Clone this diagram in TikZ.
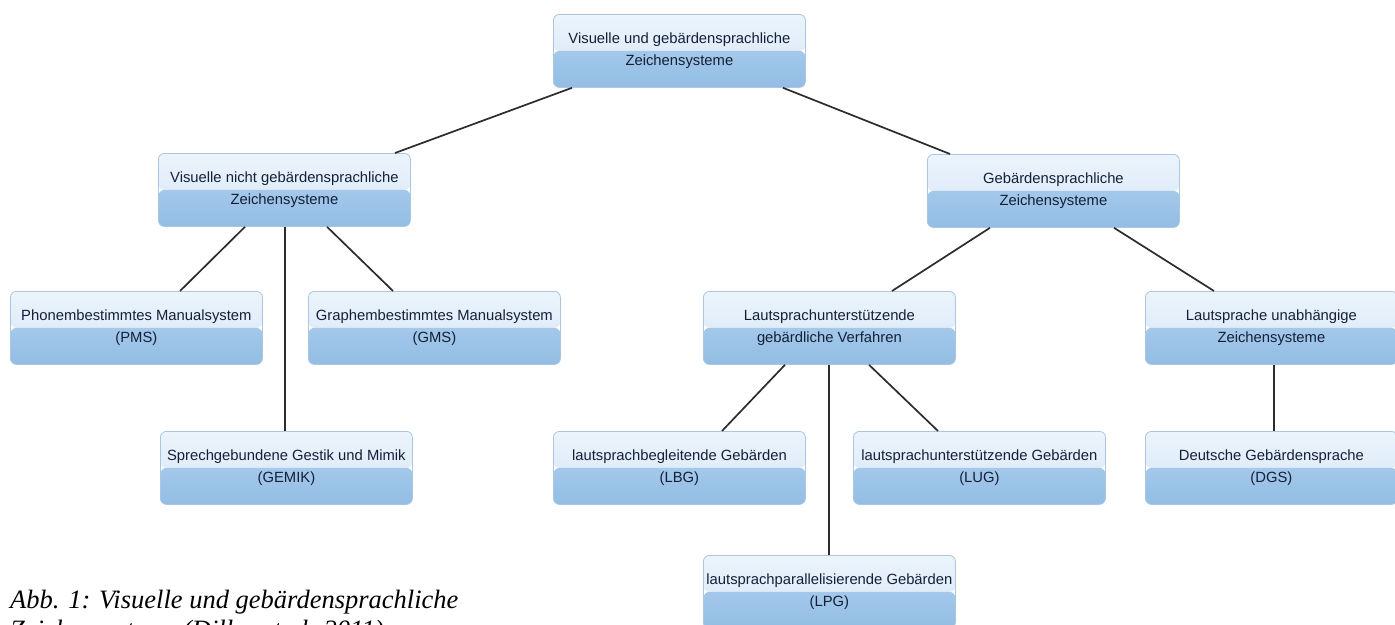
\documentclass[tikz,border=0pt]{standalone}
\usepackage{fontspec}
\setmainfont{Liberation Serif}
\newfontfamily\boxfont{Liberation Sans}
\definecolor{toplight}{HTML}{ECF4FC}
\definecolor{topdark}{HTML}{D3E5F6}
\definecolor{botlight}{HTML}{A3C8EA}
\definecolor{botdark}{HTML}{93BDE4}
\definecolor{boxline}{HTML}{A9C7E3}
\definecolor{boxtext}{HTML}{152038}
\definecolor{edgecol}{HTML}{2C2C2C}
\tikzset{
  sysbox/.style={draw=boxline, line width=0.8pt, rounded corners=6pt,
    minimum width=252pt, minimum height=73pt, inner sep=0pt, align=center,
    anchor=north west, text=boxtext,
    font=\boxfont\fontsize{14.8}{22}\selectfont,
    path picture={
      \shade[top color=toplight, bottom color=topdark]
        (path picture bounding box.north west) rectangle (path picture bounding box.east);
      \shade[top color=botlight, bottom color=botdark]
        (path picture bounding box.west) rectangle (path picture bounding box.south east);
    }},
  link/.style={draw=edgecol, line width=1.7pt},
  captext/.style={anchor=base west, inner sep=0pt, font=\itshape\fontsize{26.5}{30}\selectfont}
}
\begin{document}
\begin{tikzpicture}[x=1pt,y=-1pt]
\useasboundingbox (0,0) rectangle (1395,624);
\fill[white] (0,0) rectangle (1395,624);
% nodes
\node[sysbox] (root) at (553,14) {Visuelle und gebärdensprachliche\\Zeichensysteme};
\node[sysbox] (vng) at (158,153) {Visuelle nicht gebärdensprachliche\\Zeichensysteme};
\node[sysbox] (gz) at (927,154) {Gebärdensprachliche\\Zeichensysteme};
\node[sysbox] (pms) at (10,291) {Phonembestimmtes Manualsystem\\(PMS)};
\node[sysbox] (gms) at (308,291) {Graphembestimmtes Manualsystem\\(GMS)};
\node[sysbox] (luv) at (703,291) {Lautsprachunterstützende\\gebärdliche Verfahren};
\node[sysbox] (luz) at (1145,291) {Lautsprache unabhängige\\Zeichensysteme};
\node[sysbox] (gemik) at (160,431) {Sprechgebundene Gestik und Mimik\\(GEMIK)};
\node[sysbox] (lbg) at (553,431) {lautsprachbegleitende Gebärden\\(LBG)};
\node[sysbox] (lugb) at (853,431) {lautsprachunterstützende Gebärden\\(LUG)};
\node[sysbox] (dgs) at (1145,431) {Deutsche Gebärdensprache\\(DGS)};
\node[sysbox] (lpg) at (703,555) {lautsprachparallelisierende Gebärden\\(LPG)};
% connectors
\draw[link] ([xshift=19pt]root.south west) -- ([xshift=237pt]vng.north west);
\draw[link] ([xshift=230pt]root.south west) -- ([xshift=23pt]gz.north west);
\draw[link] ([xshift=87pt]vng.south west) -- ([xshift=170pt]pms.north west);
\draw[link] ([xshift=127pt]vng.south west) -- ([xshift=125pt]gemik.north west);
\draw[link] ([xshift=169pt]vng.south west) -- ([xshift=85pt]gms.north west);
\draw[link] ([xshift=63pt]gz.south west) -- ([xshift=189pt]luv.north west);
\draw[link] ([xshift=187pt]gz.south west) -- ([xshift=69pt]luz.north west);
\draw[link] ([xshift=82pt]luv.south west) -- ([xshift=169pt]lbg.north west);
\draw[link] ([xshift=126pt]luv.south west) -- ([xshift=126pt]lpg.north west);
\draw[link] ([xshift=166pt]luv.south west) -- ([xshift=85pt]lugb.north west);
\draw[link] ([xshift=129pt]luz.south west) -- ([xshift=129pt]dgs.north west);
% caption
\node[captext] (cap1) at (10,608) {Abb. 1: Visuelle und gebärdensprachliche};
\node[captext] (cap2) at (10,638) {Zeichensysteme (Diller et al. 2011)};
\end{tikzpicture}
\end{document}
